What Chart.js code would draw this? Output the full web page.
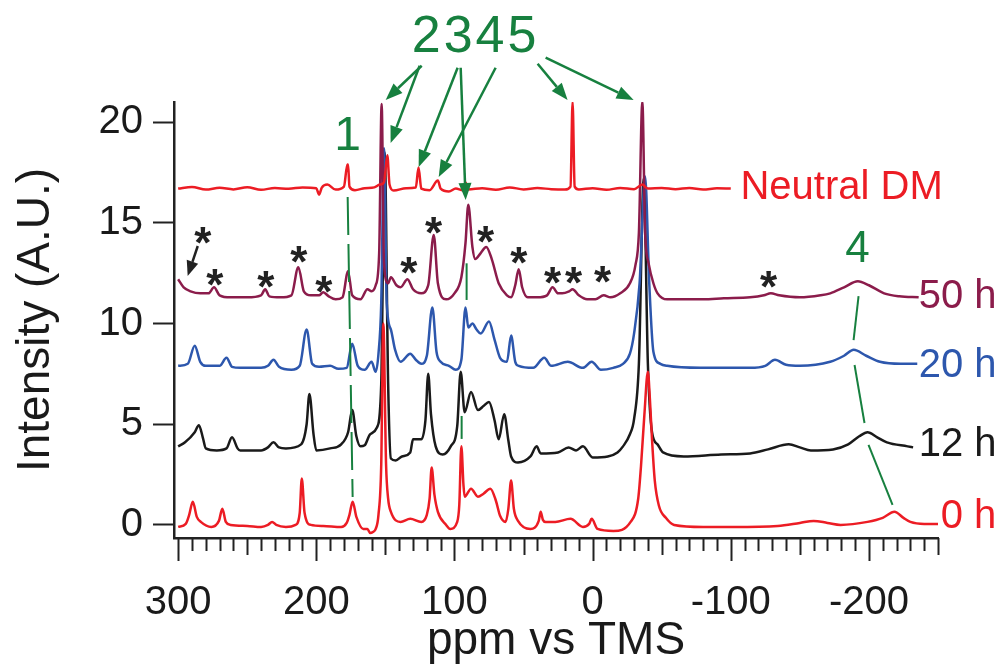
<!DOCTYPE html>
<html>
<head>
<meta charset="utf-8">
<script src="https://cdn.jsdelivr.net/npm/chart.js@4.4.1/dist/chart.umd.min.js"></script>
<style>
  html, body { margin: 0; padding: 0; background: #fff; }
  #wrap { width: 1003px; height: 669px; }
</style>
</head>
<body>
<div id="wrap"><canvas id="nmr" width="1003" height="669"></canvas></div>
<script>
// --- Data (ppm vs intensity) ---
const ppmN = [300, 290, 280, 270, 260, 250, 240, 230, 220, 210, 200, 198, 196, 192, 186, 180, 177.5, 177, 176, 172, 165, 158, 154, 151, 148.6, 147, 144, 135, 128, 126, 124, 118, 112, 110, 104, 99, 94, 92, 90, 80, 70, 60, 50, 40, 30, 20, 16, 14.5, 13, 10, 0, -10, -20, -30, -36, -40, -50, -60, -70, -80, -90, -100];
const intN = [16.7, 16.78, 16.65, 16.74, 16.66, 16.77, 16.64, 16.73, 16.69, 16.76, 16.72, 16.4, 16.75, 16.9, 16.65, 16.8, 17.9, 17.9, 16.8, 16.62, 16.72, 16.76, 16.9, 17.0, 18.36, 16.9, 16.6, 16.72, 16.75, 17.75, 16.7, 16.62, 17.1, 16.7, 16.56, 16.7, 16.62, 17.0, 16.66, 16.72, 16.64, 16.76, 16.66, 16.73, 16.67, 16.65, 16.8, 21.0, 16.8, 16.66, 16.72, 16.64, 16.73, 16.67, 16.9, 16.7, 16.73, 16.67, 16.73, 16.65, 16.72, 16.7];

const ppm50 = [300, 296, 291, 284, 278, 274, 270, 262, 250, 240, 237, 234, 226, 218, 213, 209, 204, 198, 195, 191, 186, 181, 177, 174, 168, 163, 160, 157, 154.5, 152.7, 151, 148, 146, 142, 139, 134, 130, 124, 119, 115, 112, 106, 100, 95, 92, 90, 87, 85, 81, 77, 73, 68, 62, 59, 56, 53.5, 51, 47, 40, 33, 29, 25, 22, 17, 14.5, 10, 4, -2, -8, -13, -20, -27, -31, -33.5, -36, -38, -40.5, -44, -47, -54, -65, -80, -95, -114, -124, -129, -135, -150, -165, -172, -182, -192, -200, -211, -222, -236];
const int50 = [12.2, 11.8, 11.6, 11.5, 11.5, 11.8, 11.4, 11.3, 11.3, 11.4, 11.7, 11.35, 11.3, 11.4, 12.8, 11.6, 11.4, 11.4, 11.55, 11.35, 11.2, 11.3, 12.6, 11.4, 11.2, 11.7, 11.6, 11.9, 13.5, 20.9, 13.0, 12.0, 12.3, 11.9, 11.8, 12.2, 11.7, 11.5, 11.9, 14.4, 12.0, 11.2, 11.5, 12.3, 14.0, 15.9, 13.8, 13.2, 13.5, 13.8, 13.2, 12.0, 11.4, 11.3, 11.9, 12.7, 11.8, 11.3, 11.3, 11.4, 11.8, 11.5, 11.5, 11.6, 11.7, 11.4, 11.2, 11.2, 11.4, 11.3, 11.5, 12.0, 12.9, 14.5, 21.0, 14.5, 13.0, 12.0, 11.5, 11.2, 11.2, 11.2, 11.25, 11.3, 11.4, 11.5, 11.4, 11.3, 11.4, 11.5, 11.8, 12.1, 11.9, 11.5, 11.35, 11.3];

const ppm20 = [300, 293, 288, 284, 280, 270, 265, 261, 255, 240, 235, 231, 227, 218, 212, 207, 203, 198, 190, 184, 178, 174, 170, 165, 160, 157, 155, 153, 151, 149, 146, 143, 139, 132, 128, 124, 120, 116, 113, 110, 104, 99, 95, 92, 90, 87, 84, 81, 75, 71, 67, 62, 59, 56, 53.5, 43, 35, 30, 18, 7, 0.7, -6, -15, -22, -27, -30, -34, -38, -41, -44, -49, -54, -78, -114, -125, -132, -140, -150, -172, -182, -189, -198, -208, -223, -235];
const int20 = [7.9, 8.0, 8.9, 8.1, 7.9, 7.9, 8.3, 7.85, 7.8, 7.8, 7.9, 8.2, 7.85, 7.7, 7.9, 9.7, 8.0, 7.85, 7.9, 7.75, 7.8, 9.0, 7.9, 7.7, 8.1, 7.6, 8.5, 11.0, 18.7, 11.0, 9.7, 8.7, 8.1, 8.5, 8.2, 8.0, 8.4, 10.8, 8.6, 8.1, 7.9, 7.7, 8.2, 10.8, 9.8, 10.0, 9.7, 9.5, 10.1, 9.2, 8.3, 8.1, 9.4, 8.1, 7.9, 7.8, 8.3, 7.9, 8.1, 7.8, 8.1, 7.7, 7.8, 8.0, 8.5, 9.5, 12.0, 17.3, 12.0, 8.6, 8.0, 7.9, 7.8, 7.8, 7.9, 8.2, 7.95, 7.9, 8.1, 8.4, 8.7, 8.4, 8.1, 8.0, 8.0];

const ppm12 = [300, 295, 288, 285, 282, 280, 272, 265, 261, 257, 255, 240, 235, 231, 227, 222, 211, 207, 205, 202, 200, 190, 182, 177, 174, 171, 168, 165, 161, 156, 153, 150.5, 148, 146, 142.5, 138, 132, 130, 124, 121, 119, 117, 113.6, 108.5, 102.7, 98, 95.5, 92.6, 88, 83, 79, 75, 71, 68, 64, 61, 59, 54, 45, 40.5, 37.6, 25, 17.4, 12, 7, 0, -11, -18, -22, -27, -30, -33.5, -37, -40, -43, -47, -51, -66, -93, -114, -127, -142, -150, -158, -174, -185, -193, -199, -206, -213, -228, -232];
const int12 = [3.9, 4.1, 4.6, 4.95, 4.3, 3.8, 3.7, 3.8, 4.35, 3.8, 3.7, 3.7, 3.85, 4.1, 3.85, 3.8, 4.0, 5.0, 6.5, 4.5, 3.7, 3.8, 4.0, 4.6, 5.7, 4.4, 3.9, 3.95, 4.5, 4.85, 7.0, 18.5, 7.0, 3.3, 3.2, 3.4, 3.6, 4.25, 4.25, 5.2, 7.5, 5.5, 3.9, 3.5, 3.9, 4.9, 7.6, 5.6, 6.6, 5.7, 5.9, 6.1, 5.2, 4.25, 5.5, 4.2, 3.4, 3.1, 3.4, 3.9, 3.55, 3.6, 3.85, 3.7, 3.9, 3.35, 3.4, 3.6, 3.9, 4.5, 5.25, 8.0, 17.2, 8.0, 4.6, 4.0, 3.6, 3.4, 3.5, 3.55, 3.75, 4.0, 3.85, 3.7, 3.75, 4.0, 4.4, 4.6, 4.35, 4.1, 3.9, 3.85];

const ppm0 = [300, 294.5, 292, 289.4, 286.5, 283.6, 276, 270.5, 268, 265.5, 262, 250, 240, 235, 232, 229, 222, 215, 212, 210.5, 208.5, 204, 195, 182, 178, 176, 173.7, 171, 166, 163, 161, 159, 157, 155, 153, 151.5, 149.5, 148, 146, 139, 132, 124, 120, 118, 116.5, 114.5, 112, 106, 103, 98, 96.5, 95, 93.5, 92.6, 88, 83, 79, 74, 70, 67, 63, 61, 59, 57, 54, 45, 39, 37.6, 36, 34, 27, 16, 7, 2.5, 0.7, -3.6, -15, -27.5, -33, -35, -37.5, -40, -41.5, -43, -45, -48, -53, -59, -80, -102, -134, -150, -160, -170, -179.5, -199, -210, -218.5, -225, -230, -240, -250];
const int0 = [-0.1, 0.05, 0.5, 1.15, 0.4, 0.15, -0.1, 0.2, 0.8, 0.15, 0.0, -0.05, -0.1, 0.0, 0.15, 0.0, -0.1, 0.0, 0.6, 2.3, 0.6, 0.0, -0.05, -0.1, 0.1, 0.5, 1.15, 0.4, -0.2, -0.2, -0.4, -0.35, -0.2, 0.5, 3.0, 10.0, 3.0, 1.3, 0.65, 0.15, 0.3, 0.15, 0.5, 1.3, 2.85, 1.5, 0.65, 0.0, -0.2, 0.15, 1.0, 3.9, 2.0, 1.4, 1.8, 1.4, 1.55, 1.8, 1.2, 0.45, 0.15, 0.8, 2.2, 0.8, 0.2, -0.2, 0.2, 0.65, 0.25, 0.15, 0.15, 0.3, -0.1, 0.05, 0.3, -0.2, -0.3, 0.15, 1.3, 2.9, 5.5, 7.6, 6.2, 4.25, 2.2, 0.95, 0.35, 0.0, -0.1, -0.1, -0.05, 0.1, 0.2, 0.1, 0.0, 0.15, 0.35, 0.65, 0.35, 0.15, 0.05, 0.05];

// axis ticks
const yTicks = [0, 5, 10, 15, 20];
const xMajor = [300, 200, 100, 0, -100, -200];

// trace labels: [text, ppm, intensity, colour]
const traceLabels = [
  ['Neutral DM', -107, 16.75, '#ec1c24'],
  ['50 h', -236, 11.3, '#8b1c4b'],
  ['20 h', -236, 7.9, '#2d57ad'],
  ['12 h', -236, 3.97, '#1a1a1a'],
  ['0 h', -252, 0.4, '#ec1c24']
];

// asterisk (spinning side band) positions: [ppm, intensity]
const starPos = [[282.2, 14.49], [273.5, 12.41], [236.6, 12.31], [212.7, 13.55], [194.6, 12.06], [133.1, 13.0], [115.1, 14.99], [77.4, 14.54], [53.5, 13.5], [28.9, 12.51], [13.7, 12.51], [-7.2, 12.56], [-127.4, 12.31]];

// green peak-assignment arrows: [ppmFrom, intFrom, ppmTo, intTo]
const greenArrows = [
  [123.7, 22.8, 149.8, 21.1],
  [125.2, 22.8, 146.2, 18.96],
  [97.7, 22.7, 125.9, 17.77],
  [95.5, 22.7, 91.9, 16.13],
  [70.2, 22.7, 111.4, 17.27],
  [39.8, 22.9, 18.1, 21.1],
  [34.0, 23.2, -29.7, 21.1]
];

// green guide lines joining a peak across spectra
const guideSolid = [
  [91.2, 12.99, 91.2, 11.17],
  [94.8, 5.41, 94.8, 4.27],
  [-192.5, 11.36, -188.9, 9.18],
  [-189.6, 7.94, -196.8, 5.06],
  [-199.7, 3.97, -217.1, 0.99]
];
const guideDashed = [[177.3, 16.28, 173.7, 1.39]];

// green numbers: [text, ppm, intensity, font size]
const greenText = [
  ['2345', 84.7, 24.2, 52],
  ['1', 177.3, 19.26, 48],
  ['4', -191.8, 13.65, 44]
];

const GREEN = '#17803f';

function pts(xs, ys) {
  return xs.map((x, i) => ({ x: x, y: ys[i] }));
}

function arrow(ctx, x1, y1, x2, y2, color, headLen, headW) {
  const ang = Math.atan2(y2 - y1, x2 - x1);
  const bx = x2 - headLen * Math.cos(ang);
  const by = y2 - headLen * Math.sin(ang);
  ctx.strokeStyle = color;
  ctx.fillStyle = color;
  ctx.beginPath();
  ctx.moveTo(x1, y1);
  ctx.lineTo(bx, by);
  ctx.stroke();
  ctx.beginPath();
  ctx.moveTo(x2, y2);
  ctx.lineTo(bx + headW / 2 * Math.sin(ang), by - headW / 2 * Math.cos(ang));
  ctx.lineTo(bx - headW / 2 * Math.sin(ang), by + headW / 2 * Math.cos(ang));
  ctx.closePath();
  ctx.fill();
}

// --- Drawing of minor ticks and the annotations ---
const annotate = {
  id: 'annotate',
  afterDraw(chart) {
    const ctx = chart.ctx;
    const xs = chart.scales.x;
    const ys = chart.scales.y;
    const px = v => xs.getPixelForValue(v);
    const py = v => ys.getPixelForValue(v);
    ctx.save();

    // x tick marks: long at 100, medium at 50, short every 10
    ctx.strokeStyle = '#222';
    ctx.lineWidth = 2;
    xs.ticks.forEach(t => {
      const v = Math.round(t.value);
      const len = v % 100 === 0 ? 23 : (v % 50 === 0 ? 17 : 13);
      const x = Math.round(px(v)) + 0.5;
      ctx.beginPath();
      ctx.moveTo(x, xs.top);
      ctx.lineTo(x, xs.top + len);
      ctx.stroke();
    });

    // trace labels
    ctx.font = "40px 'Liberation Sans', Arial, sans-serif";
    ctx.textAlign = 'left';
    ctx.textBaseline = 'middle';
    traceLabels.forEach(l => {
      ctx.fillStyle = l[3];
      ctx.fillText(l[0], px(l[1]), py(l[2]));
    });

    // asterisks
    ctx.fillStyle = '#222';
    ctx.textAlign = 'center';
    ctx.textBaseline = 'alphabetic';
    const fs = 44;
    ctx.font = "bold " + fs + "px 'Liberation Sans', Arial, sans-serif";
    starPos.forEach(s => {
      ctx.fillText('*', px(s[0]), py(s[1]) + 0.57 * fs);
    });

    // black arrow to the first side band
    ctx.lineWidth = 2.5;
    arrow(ctx, px(285.8), py(13.85), px(293.1), py(12.36), '#222', 15, 12);

    // green guide lines
    ctx.lineWidth = 2;
    ctx.strokeStyle = GREEN;
    guideSolid.forEach(g => {
      ctx.beginPath();
      ctx.moveTo(px(g[0]), py(g[1]));
      ctx.lineTo(px(g[2]), py(g[3]));
      ctx.stroke();
    });
    ctx.setLineDash([38, 9]);
    guideDashed.forEach(g => {
      ctx.beginPath();
      ctx.moveTo(px(g[0]), py(g[1]));
      ctx.lineTo(px(g[2]), py(g[3]));
      ctx.stroke();
    });
    ctx.setLineDash([]);

    // green arrows
    ctx.lineWidth = 2.5;
    greenArrows.forEach(a => {
      arrow(ctx, px(a[0]), py(a[1]), px(a[2]), py(a[3]), GREEN, 17, 13);
    });

    // green numbers
    ctx.fillStyle = GREEN;
    ctx.textAlign = 'center';
    ctx.textBaseline = 'middle';
    greenText.forEach(t => {
      ctx.font = t[3] + "px 'Liberation Sans', Arial, sans-serif";
      ctx.letterSpacing = t[0].length > 1 ? '3px' : '0px';
      ctx.fillText(t[0], px(t[1]), py(t[2]));
    });
    ctx.letterSpacing = '0px';

    ctx.restore();
  }
};

Chart.defaults.font.family = "'Liberation Sans', Arial, sans-serif";
Chart.defaults.color = '#1a1a1a';

// smooth (monotone) curves through the read-off points, like the spectra
const lineStyle = { borderWidth: 2.5, pointRadius: 0, cubicInterpolationMode: 'monotone', fill: false };

new Chart(document.getElementById('nmr'), {
  type: 'line',
  data: {
    datasets: [
      Object.assign({ label: 'Neutral DM', data: pts(ppmN, intN), borderColor: '#ec1c24' }, lineStyle),
      Object.assign({ label: '0 h', data: pts(ppm0, int0), borderColor: '#ec1c24' }, lineStyle),
      Object.assign({ label: '50 h', data: pts(ppm50, int50), borderColor: '#8b1c4b' }, lineStyle),
      Object.assign({ label: '20 h', data: pts(ppm20, int20), borderColor: '#2d57ad' }, lineStyle),
      Object.assign({ label: '12 h', data: pts(ppm12, int12), borderColor: '#1a1a1a' }, lineStyle)
    ]
  },
  options: {
    responsive: false,
    animation: false,
    layout: { padding: { top: 102, right: 65, left: 0, bottom: 0 } },
    plugins: { legend: { display: false }, tooltip: { enabled: false } },
    scales: {
      x: {
        type: 'linear',
        reverse: true,
        min: -250,
        max: 303,
        grid: { display: false },
        border: { display: true, color: '#222', width: 2.5 },
        ticks: {
          stepSize: 10,
          includeBounds: false,
          autoSkip: false,
          maxRotation: 0,
          padding: 33,
          font: { size: 40 },
          color: '#1a1a1a',
          callback: v => xMajor.includes(v) ? String(v) : ''
        },
        title: { display: true, text: 'ppm vs TMS', font: { size: 46 }, color: '#1a1a1a', padding: { top: 0, bottom: 0 } },
        afterFit: s => { s.height = 131; }
      },
      y: {
        min: -0.65,
        max: 21,
        grid: { drawOnChartArea: false, tickLength: 21, tickWidth: 2, tickColor: '#222' },
        border: { display: true, color: '#222', width: 2.5 },
        ticks: {
          stepSize: 5,
          includeBounds: false,
          padding: 10,
          font: { size: 40 },
          color: '#1a1a1a',
          callback: v => yTicks.includes(v) ? String(v) : ''
        },
        title: { display: true, text: 'Intensity (A.U.)', font: { size: 46 }, color: '#1a1a1a', padding: { top: 9, bottom: 0 } },
        afterFit: s => { s.width = 174; }
      }
    }
  },
  plugins: [annotate]
});
</script>
</body>
</html>
